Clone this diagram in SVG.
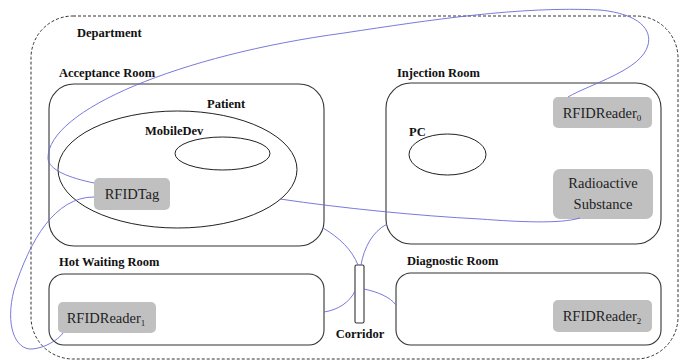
<svg xmlns="http://www.w3.org/2000/svg" width="688" height="363" viewBox="0 0 688 363">
<style>
.room{fill:none;stroke:#333;stroke-width:1.1}
.dept{fill:none;stroke:#333;stroke-width:1;stroke-dasharray:3,2}
.ell{fill:none;stroke:#222;stroke-width:1}
.box{fill:#c0c0c0;stroke:none}
.lbl{font-family:"Liberation Serif",serif;font-weight:bold;font-size:12.5px;fill:#111}
.txt{font-family:"Liberation Serif",serif;font-size:14.5px;fill:#222}
.sub{font-size:9px}
.conn{fill:none;stroke:#6a6ad8;stroke-width:0.9}
</style>
<rect width="688" height="363" fill="#fff"/>
<g id="department">
<rect class="dept" x="31" y="16" width="647" height="343" rx="42" ry="42"/>
<text class="lbl" x="77" y="37">Department</text>
</g>
<g id="acceptance-room">
<rect class="room" x="49" y="84" width="275" height="162" rx="25" ry="25"/>
<text class="lbl" x="59" y="77">Acceptance Room</text>
</g>
<g id="patient">
<ellipse class="ell" cx="177.5" cy="169.5" rx="119.5" ry="58.5"/>
<text class="lbl" x="207" y="108">Patient</text>
</g>
<g id="mobiledev">
<ellipse class="ell" cx="222.5" cy="153.5" rx="47.5" ry="16.5"/>
<text class="lbl" x="145" y="135">MobileDev</text>
</g>
<g id="rfidtag">
<rect class="box" x="94" y="178" width="76" height="32" rx="5" ry="5"/>
<text class="txt" x="132" y="199" text-anchor="middle">RFIDTag</text>
</g>
<g id="injection-room">
<rect class="room" x="386" y="83" width="275" height="161" rx="25" ry="25"/>
<text class="lbl" x="397" y="77">Injection Room</text>
</g>
<g id="rfidreader0">
<rect class="box" x="553" y="97" width="99" height="31" rx="5" ry="5"/>
<text class="txt" x="602" y="118" text-anchor="middle">RFIDReader<tspan class="sub" dy="3">0</tspan></text>
</g>
<g id="pc">
<ellipse class="ell" cx="447.5" cy="154.5" rx="38.5" ry="20.5"/>
<text class="lbl" x="409" y="136">PC</text>
</g>
<g id="radioactive-substance">
<rect class="box" x="553" y="169" width="100" height="50" rx="7" ry="7"/>
<text class="txt" x="603" y="188" text-anchor="middle">Radioactive</text>
<text class="txt" x="603" y="209" text-anchor="middle">Substance</text>
</g>
<g id="hot-waiting-room">
<rect class="room" x="49" y="274" width="275" height="71" rx="15" ry="15"/>
<text class="lbl" x="59" y="266">Hot Waiting Room</text>
</g>
<g id="rfidreader1">
<rect class="box" x="58" y="302" width="98" height="31" rx="5" ry="5"/>
<text class="txt" x="106" y="323" text-anchor="middle">RFIDReader<tspan class="sub" dy="3">1</tspan></text>
</g>
<g id="corridor">
<rect class="room" x="355" y="265" width="9" height="58" rx="1.5" ry="1.5"/>
<text class="lbl" x="360" y="338" text-anchor="middle">Corridor</text>
</g>
<g id="diagnostic-room">
<rect class="room" x="396" y="273" width="265" height="72" rx="15" ry="15"/>
<text class="lbl" x="407" y="265">Diagnostic Room</text>
</g>
<g id="rfidreader2">
<rect class="box" x="553" y="300" width="99" height="32" rx="5" ry="5"/>
<text class="txt" x="602" y="321" text-anchor="middle">RFIDReader<tspan class="sub" dy="3">2</tspan></text>
</g>
<g id="connectors">
<path class="conn" d="M94,183 C70,178 48,170 48,158 C48,110 180,55 344,33 C430,20 520,6 600,10 C640,14 652,30 648,45 C642,70 590,84 568,97"/>
<path class="conn" d="M94,197 C55,197 30,240 14,290 C5,325 15,350 32,349 C45,348 58,340 63,333"/>
<path class="conn" d="M280,199 C340,208 420,216 480,219 C520,222 560,224 580,218"/>
<path class="conn" d="M323,228 C340,238 352,250 358,265"/>
<path class="conn" d="M387,224 C372,232 364,248 361,265"/>
<path class="conn" d="M324,312 C338,310 350,302 355,291"/>
<path class="conn" d="M364,289 C378,292 390,297 396,305"/>
</g>
</svg>
